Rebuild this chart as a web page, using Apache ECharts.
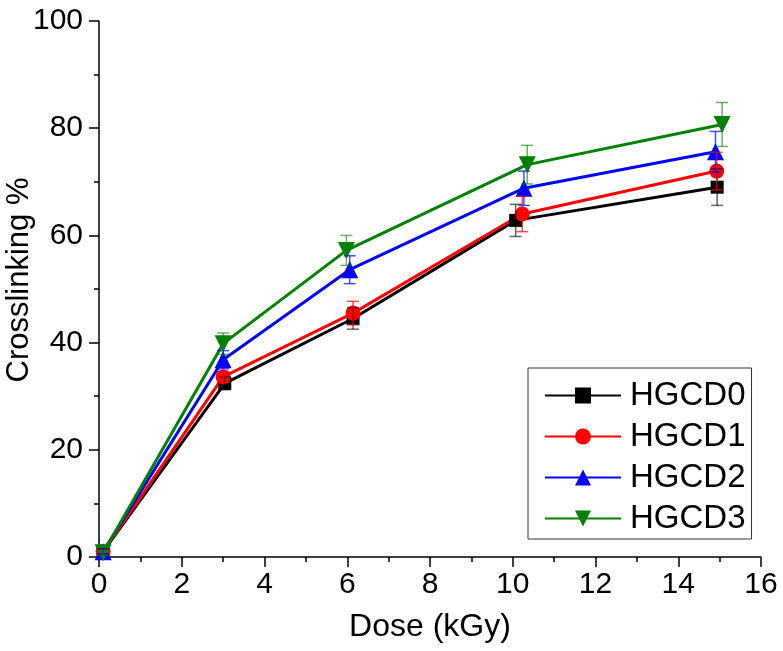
<!DOCTYPE html>
<html>
<head>
<meta charset="utf-8">
<script src="https://cdn.jsdelivr.net/npm/echarts@6/dist/echarts.min.js"></script>
<style>
html,body{margin:0;padding:0;background:#fff;}
#chart{width:783px;height:651px;}
</style>
</head>
<body>
<div id="chart"></div>
<script>
const seriesNames = ['HGCD0', 'HGCD1', 'HGCD2', 'HGCD3'];
const xTicks = [0, 2, 4, 6, 8, 10, 12, 14, 16];
const yTicks = [0, 20, 40, 60, 80, 100];

const doseHGCD0 = [0.1, 3.04, 6.14, 10.07, 14.94];
const valHGCD0  = [1.0, 32.4, 44.5, 62.8, 69.0];
const errHGCD0  = [0.5, 1.2, 2.0, 3.0, 3.4];

const doseHGCD1 = [0.1, 3.0, 6.14, 10.23, 14.93];
const valHGCD1  = [1.0, 33.6, 45.5, 64.0, 72.0];
const errHGCD1  = [0.5, 1.0, 2.2, 3.3, 3.5];

const doseHGCD2 = [0.1, 3.0, 6.06, 10.27, 14.9];
const valHGCD2  = [1.0, 36.8, 53.6, 68.8, 75.6];
const errHGCD2  = [0.5, 1.7, 2.6, 3.2, 3.8];

const doseHGCD3 = [0.1, 3.0, 5.98, 10.35, 15.06];
const valHGCD3  = [0.8, 39.8, 57.2, 73.2, 80.7];
const errHGCD3  = [0.5, 2.0, 2.8, 3.6, 4.1];

const doses = [doseHGCD0, doseHGCD1, doseHGCD2, doseHGCD3];
const vals = [valHGCD0, valHGCD1, valHGCD2, valHGCD3];
const errs = [errHGCD0, errHGCD1, errHGCD2, errHGCD3];
const colors = ['#000000', '#ff0000', '#0000ff', '#008000'];
const symbols = ['rect', 'circle', 'triangle', 'path://M0,0 L10,0 L5,10 Z'];
const symbolSizes = [13, 15, 17, 17];
const errColors = ['rgba(0,0,0,0.6)', 'rgba(255,0,0,0.7)', 'rgba(0,0,255,0.7)', 'rgba(0,128,0,0.6)'];

const FONT = '"Liberation Sans", Arial, sans-serif';

function errRenderer(color) {
  return function (params, api) {
    const x = api.value(0), y = api.value(1), e = api.value(2);
    const t = api.coord([x, y + e]);
    const b = api.coord([x, y - e]);
    const hw = 6;
    const st = { stroke: color, lineWidth: 1.5, fill: null };
    return {
      type: 'group',
      children: [
        { type: 'line', shape: { x1: t[0], y1: t[1], x2: b[0], y2: b[1] }, style: st },
        { type: 'line', shape: { x1: t[0] - hw, y1: t[1], x2: t[0] + hw, y2: t[1] }, style: st },
        { type: 'line', shape: { x1: b[0] - hw, y1: b[1], x2: b[0] + hw, y2: b[1] }, style: st }
      ]
    };
  };
}

const series = [];
seriesNames.forEach((name, i) => {
  series.push({
    name: name,
    type: 'line',
    data: doses[i].map((d, k) => [d, vals[i][k]]),
    symbol: symbols[i],
    symbolSize: symbolSizes[i],
    showAllSymbol: true,
    lineStyle: { color: colors[i], width: 3 },
    itemStyle: { color: colors[i] },
    z: 3,
    animation: false
  });
});
seriesNames.forEach((name, i) => {
  series.push({
    name: name + ' err',
    type: 'custom',
    renderItem: errRenderer(errColors[i]),
    encode: { x: 0, y: 1 },
    data: doses[i].map((d, k) => [d, vals[i][k], errs[i][k]]),
    z: 4,
    animation: false
  });
});

const chart = echarts.init(document.getElementById('chart'), null, { renderer: 'canvas' });
chart.setOption({
  backgroundColor: '#ffffff',
  animation: false,
  grid: { left: 99, right: 22, top: 21, bottom: 94, containLabel: false, outerBoundsMode: 'none' },
  legend: {
    data: seriesNames,
    orient: 'vertical',
    left: 528,
    top: 368,
    itemWidth: 76,
    itemHeight: 20,
    itemGap: 8,
    padding: [11, 6, 4, 16],
    borderColor: '#333333',
    borderWidth: 1,
    textStyle: { fontFamily: FONT, fontSize: 33, color: '#000', lineHeight: 33, padding: [0, 0, 0, 4] }
  },
  xAxis: {
    type: 'value',
    min: 0, max: 16, interval: 2,
    name: 'Dose (kGy)',
    nameLocation: 'middle',
    nameGap: 54,
    nameMoveOverlap: false,
    nameTextStyle: { fontFamily: FONT, fontSize: 32, color: '#000' },
    axisLine: { show: true, onZero: false, lineStyle: { color: '#000', width: 1.5 } },
    axisTick: { show: true, inside: false, length: 10, lineStyle: { color: '#000', width: 1.5 } },
    minorTick: { show: true, splitNumber: 2, length: 5, lineStyle: { color: '#000', width: 1.5 } },
    splitLine: { show: false },
    axisLabel: { fontFamily: FONT, fontSize: 30, color: '#000', margin: 13,
      formatter: v => xTicks.indexOf(v) >= 0 ? String(v) : '' }
  },
  yAxis: {
    type: 'value',
    min: 0, max: 100, interval: 20,
    name: 'Crosslinking %',
    nameLocation: 'middle',
    nameGap: 64,
    nameMoveOverlap: false,
    nameRotate: 90,
    nameTextStyle: { fontFamily: FONT, fontSize: 31, color: '#000', padding: [0, 0, 0, 18] },
    axisLine: { show: true, onZero: false, lineStyle: { color: '#000', width: 1.5 } },
    axisTick: { show: true, inside: false, length: 10, lineStyle: { color: '#000', width: 1.5 } },
    minorTick: { show: true, splitNumber: 2, length: 5, lineStyle: { color: '#000', width: 1.5 } },
    splitLine: { show: false },
    axisLabel: { fontFamily: FONT, fontSize: 30, color: '#000', margin: 16,
      formatter: v => yTicks.indexOf(v) >= 0 ? String(v) : '' }
  },
  series: series
});
</script>
</body>
</html>
